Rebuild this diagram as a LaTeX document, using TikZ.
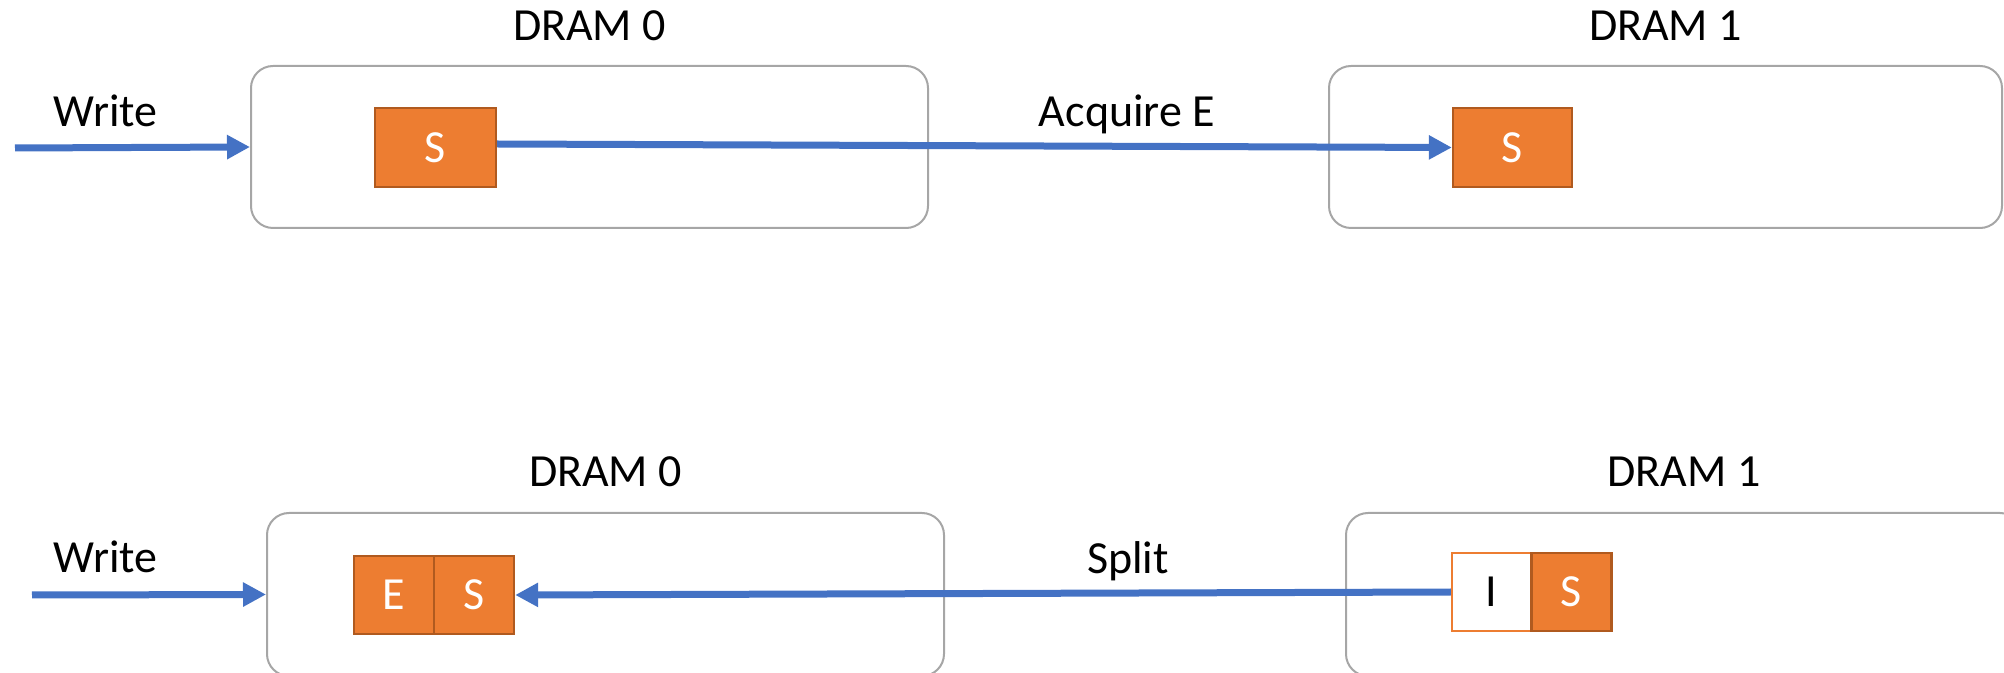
\documentclass[tikz,border=0pt]{standalone}
\usepackage{fontspec}
\setmainfont{Carlito}
\usetikzlibrary{arrows.meta}
\definecolor{linkblue}{HTML}{4472C4}
\definecolor{cellorange}{HTML}{ED7D31}
\definecolor{celledge}{HTML}{B05A1F}
\definecolor{framegray}{HTML}{A6A6A6}

\begin{document}
\begin{tikzpicture}[x=0.5pt,y=-0.5pt,
  font=\fontsize{23}{28}\selectfont,
  dram/.style={draw=framegray,line width=1pt,rounded corners=11pt,
    minimum height=81pt,inner sep=0pt},
  cell/.style={draw=celledge,fill=cellorange,line width=1.2pt,text=white,
    inner sep=0pt,minimum width=40pt,minimum height=39pt},
  icell/.style={cell,draw=cellorange,fill=white,text=black},
  lbl/.style={anchor=base,inner sep=0pt},
  flow/.style={draw=linkblue,line width=3.5pt,
    -{Triangle[length=11.5pt,width=11.5pt]}}
]
\useasboundingbox (0,0) rectangle (2004,673);
\clip (0,0) rectangle (2004,673);

% ---- upper row: write request, DRAM 0 asks DRAM 1 for exclusive ----
\node[dram,minimum width=338.5pt] (d0a) at (589.5,147) {};
\node[dram,minimum width=336.5pt] (d1a) at (1665.5,147) {};
\node[lbl] (t0a) at ([yshift=12pt]d0a.north) {DRAM 0};
\node[lbl] (t1a) at ([yshift=12pt]d1a.north) {DRAM 1};

\node[cell,minimum width=60.5pt,minimum height=39.5pt] (s0a) at (435.5,147.5) {S};
\node[cell,minimum width=59.5pt,minimum height=39.5pt] (s1a) at (1512.5,147.5) {S};

\coordinate (wa) at (15,148);
\draw[flow] (wa) -- (d0a.west);
\node[lbl] (wla) at (105.5,127) {Write};

\draw[flow] ([yshift=1.75pt]s0a.east) -- (s1a.west);
\node[lbl] (acq) at (1127,127) {Acquire E};

% ---- lower row: DRAM 1 splits the line back to DRAM 0 ----
\node[dram,minimum width=338.5pt,minimum height=81.5pt] (d0b) at (605.5,594.5) {};
\node[dram,minimum width=338pt,minimum height=81.5pt] (d1b) at (1684,594.5) {};
\node[lbl] (t0b) at ([yshift=12.5pt]d0b.north) {DRAM 0};
\node[lbl] (t1b) at ([yshift=12.5pt]d1b.north) {DRAM 1};

\node[cell] (e0b) at (394,595) {E};
\node[cell] (s0b) at (474,595) {S};
\node[icell,minimum width=39.5pt] (i1b) at (1491.5,592) {I};
\node[cell] (s1b) at (1571.5,592) {S};

\coordinate (wb) at (32,595);
\draw[flow] (wb) -- (d0b.west);
\node[lbl] (wlb) at (105.5,573) {Write};

\draw[flow] (i1b.west) -- (s0b.east);
\node[lbl] (spl) at (1128,574) {Split};
\end{tikzpicture}
\end{document}
